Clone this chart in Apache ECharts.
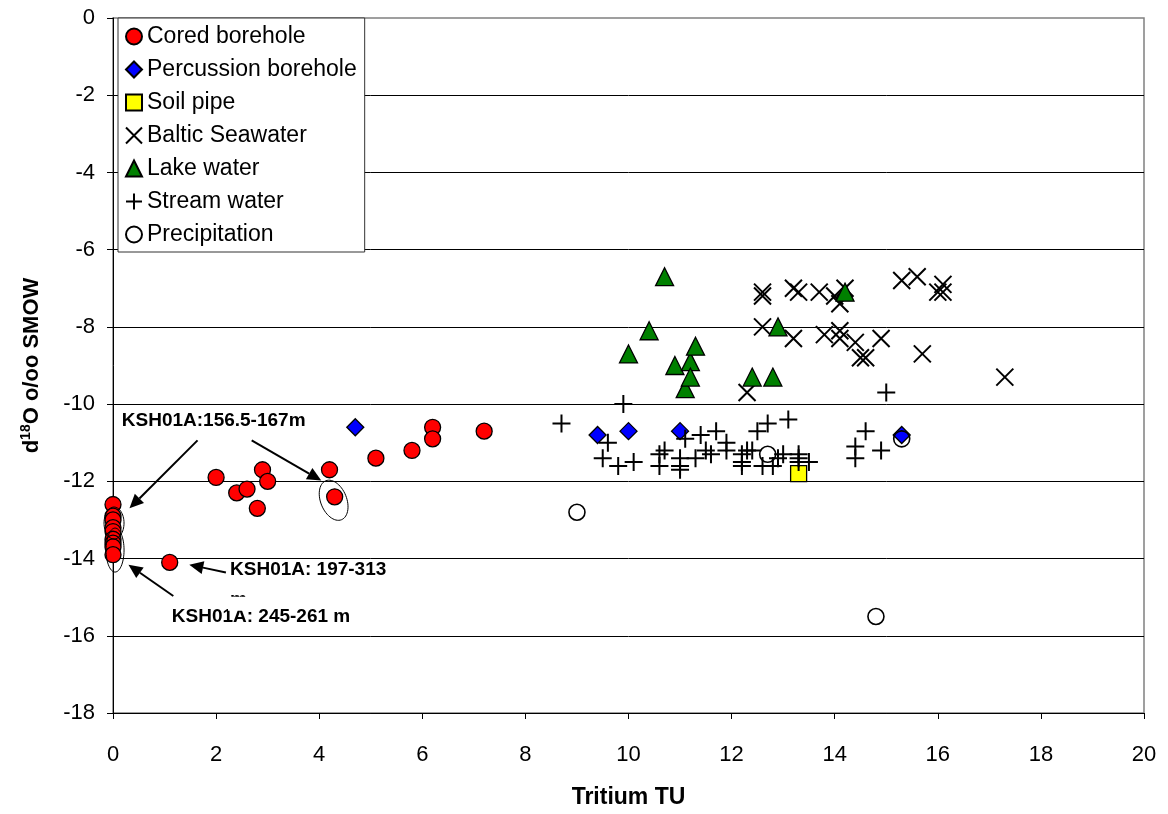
<!DOCTYPE html>
<html>
<head>
<meta charset="utf-8">
<script src="https://cdn.jsdelivr.net/npm/echarts@6/dist/echarts.min.js"></script>
<style>
  html, body { margin: 0; padding: 0; background: #fff; }
  #chart { width: 1168px; height: 814px; }
</style>
</head>
<body>
<div id="chart"></div>
<script>
const FONT = '"Liberation Sans", Arial, sans-serif';

// [tritium TU, d18O]
const coredBorehole = [
  [0, -12.6], [0, -12.9], [0, -13.0], [0, -13.2], [0, -13.3], [0, -13.5], [0, -13.6], [0, -13.7], [0, -13.9],
  [1.1, -14.1], [2.0, -11.9], [2.4, -12.3], [2.6, -12.2], [2.8, -12.7], [2.9, -11.7], [3.0, -12.0],
  [4.2, -11.7], [4.3, -12.4], [5.1, -11.4], [5.8, -11.2], [6.2, -10.6], [6.2, -10.9], [7.2, -10.7]
];
const percussionBorehole = [[4.7, -10.6], [9.4, -10.8], [10.0, -10.7], [11.0, -10.7], [15.3, -10.8]];
const soilPipe = [[13.3, -11.8]];
const balticSeawater = [
  [12.3, -9.7], [12.6, -7.1], [12.6, -7.2], [12.6, -8.0], [13.2, -7.0], [13.3, -7.1], [13.2, -8.3],
  [13.7, -7.1], [13.8, -8.2], [14.0, -7.2], [14.1, -7.4], [14.2, -7.0], [14.1, -8.1], [14.1, -8.3],
  [14.4, -8.4], [14.5, -8.8], [14.6, -8.8], [14.9, -8.3], [15.3, -6.8], [15.6, -6.7], [15.7, -8.7],
  [16.0, -7.1], [16.1, -6.9], [16.1, -7.1], [17.3, -9.3]
];
const lakeWater = [
  [10.0, -8.7], [10.4, -8.1], [10.7, -6.7], [10.9, -9.0], [11.1, -9.6], [11.2, -8.9], [11.2, -9.3],
  [11.3, -8.5], [12.4, -9.3], [12.8, -9.3], [12.9, -8.0], [14.2, -7.1]
];
const streamWater = [
  [8.7, -10.5], [9.9, -10.0], [9.6, -11.0], [9.5, -11.4], [9.8, -11.6], [10.1, -11.5], [10.6, -11.6],
  [10.6, -11.3], [10.7, -11.2], [11.0, -11.4], [11.0, -11.6], [11.0, -11.7], [11.1, -10.9], [11.3, -11.4],
  [11.4, -10.8], [11.5, -11.2], [11.6, -11.3], [11.7, -10.7], [11.9, -11.0], [11.9, -11.2], [12.2, -11.3],
  [12.2, -11.5], [12.2, -11.6], [12.3, -11.2], [12.4, -11.2], [12.5, -10.7], [12.7, -10.5], [13.1, -10.4],
  [12.6, -11.6], [12.8, -11.6], [12.9, -11.4], [13.0, -11.3], [13.3, -11.3], [13.3, -11.4], [13.3, -11.5],
  [13.5, -11.5], [14.4, -11.1], [14.4, -11.4], [14.6, -10.7], [14.9, -11.2], [15.0, -9.7]
];
const precipitation = [[9.0, -12.8], [12.7, -11.3], [14.8, -15.5], [15.3, -10.9]];

// annotations, in data units
const noteTexts = [
  { text: 'KSH01A:156.5-167m', at: [0.17, -10.43] },
  { text: 'KSH01A: 197-313', at: [2.27, -14.29] },
  { text: 'KSH01A: 245-261 m', at: [1.14, -15.5] }
];
const noteArrows = [
  [[1.64, -10.94], [0.32, -12.70]],
  [[2.69, -10.94], [4.04, -11.98]],
  [[2.19, -14.36], [1.48, -14.16]],
  [[1.17, -14.97], [0.30, -14.16]]
];
// centre, radii in px, tilt in degrees
const noteEllipses = [
  { at: [4.28, -12.49], rx: 13, ry: 21, tilt: -22 },
  { at: [0.02, -13.08], rx: 10, ry: 16, tilt: 0 },
  { at: [0.04, -13.78], rx: 9, ry: 22, tilt: 0 }
];

const crossPath = 'path://M0,0L10,10M10,0L0,10';
const plusPath = 'path://M5,0L5,10M0,5L10,5';

function scatter(name, data, symbol, size, color, bw) {
  return {
    name: name,
    type: 'scatter',
    data: data,
    symbol: symbol,
    symbolSize: size,
    itemStyle: { color: color, borderColor: '#000', borderWidth: bw, opacity: 1 },
    emphasis: { disabled: true }
  };
}

const chart = echarts.init(document.getElementById('chart'));
chart.setOption({
  animation: false,
  backgroundColor: '#fff',
  textStyle: { fontFamily: FONT },
  grid: {
    left: 113, right: 24, top: 18, bottom: 97,
    show: true, borderColor: '#808080', borderWidth: 1.5, backgroundColor: '#fff'
  },
  legend: {
    orient: 'vertical',
    left: 118, top: 18,
    padding: [7, 8, 6, 7],
    itemGap: 10,
    itemWidth: 16, itemHeight: 16,
    backgroundColor: '#fff',
    borderColor: '#333', borderWidth: 1,
    textStyle: { fontFamily: FONT, fontSize: 23, color: '#000', lineHeight: 23 },
    data: ['Cored borehole', 'Percussion borehole', 'Soil pipe', 'Baltic Seawater', 'Lake water', 'Stream water', 'Precipitation']
  },
  xAxis: {
    type: 'value', min: 0, max: 20, interval: 2,
    name: 'Tritium TU', nameLocation: 'middle', nameGap: 73,
    nameTextStyle: { fontFamily: FONT, fontSize: 23, fontWeight: 'bold', color: '#000' },
    axisLine: { show: true, onZero: false, lineStyle: { color: '#000', width: 1 } },
    axisTick: { show: true, length: 6, lineStyle: { color: '#000' } },
    axisLabel: { fontFamily: FONT, fontSize: 22, color: '#000', margin: 31 },
    splitLine: { show: false }
  },
  yAxis: {
    type: 'value', min: -18, max: 0, interval: 2,
    name: '{n|d}{s|18}{n|O o/oo SMOW}', nameLocation: 'middle', nameGap: 68,
    nameTextStyle: {
      color: '#000',
      rich: {
        n: { fontFamily: FONT, fontSize: 22, fontWeight: 'bold', color: '#000', lineHeight: 26 },
        s: { fontFamily: FONT, fontSize: 14, fontWeight: 'bold', color: '#000', lineHeight: 14, verticalAlign: 'top' }
      }
    },
    axisLine: { show: true, onZero: false, lineStyle: { color: '#000', width: 1 } },
    axisTick: { show: true, length: 6, lineStyle: { color: '#000' } },
    axisLabel: { fontFamily: FONT, fontSize: 22, color: '#000', margin: 18 },
    splitLine: { show: true, showMaxLine: false, lineStyle: { color: '#000', width: 1 } }
  },
  series: [
    scatter('Cored borehole', coredBorehole, 'circle', 16, '#ff0000', 1.3),
    scatter('Percussion borehole', percussionBorehole, 'diamond', 17, '#0000ff', 1.3),
    scatter('Soil pipe', soilPipe, 'rect', 16, '#ffff00', 1.3),
    scatter('Baltic Seawater', balticSeawater, crossPath, 17, 'transparent', 2),
    scatter('Lake water', lakeWater, 'triangle', 18, '#008000', 1.3),
    scatter('Stream water', streamWater, plusPath, 18, 'transparent', 2),
    scatter('Precipitation', precipitation, 'circle', 16, 'transparent', 1.6)
  ]
});

// annotation layer built from data positions
function px(p) { return chart.convertToPixel({ gridIndex: 0 }, p); }
const elements = [];
noteTexts.forEach(function (t) {
  const p = px(t.at);
  elements.push({
    type: 'text', x: p[0], y: p[1], z: 100,
    style: { text: t.text, fontFamily: FONT, fontSize: 19, fontWeight: 'bold', fill: '#000', align: 'left', verticalAlign: 'middle' }
  });
});
// wrapped "m" of the second label, cut off by its text box
const m = px([2.27, -14.29]);
elements.push({
  type: 'text', x: m[0], y: m[1] + 30, z: 100,
  style: { text: 'm', fontFamily: FONT, fontSize: 19, fontWeight: 'bold', fill: '#000', align: 'left', verticalAlign: 'middle' }
});
elements.push({
  type: 'rect', shape: { x: m[0] - 2, y: m[1] + 27, width: 26, height: 14 }, z: 101,
  style: { fill: '#fff' }
});
noteArrows.forEach(function (ar) {
  const a = px(ar[0]), b = px(ar[1]);
  const dx = b[0] - a[0], dy = b[1] - a[1], len = Math.hypot(dx, dy);
  const ux = dx / len, uy = dy / len, hl = 14, hw = 6.5;
  const bx = b[0] - ux * hl, by = b[1] - uy * hl;
  elements.push({
    type: 'line', z: 100, shape: { x1: a[0], y1: a[1], x2: bx, y2: by },
    style: { stroke: '#000', lineWidth: 2 }
  });
  elements.push({
    type: 'polygon', z: 100,
    shape: { points: [[b[0], b[1]], [bx - uy * hw, by + ux * hw], [bx + uy * hw, by - ux * hw]] },
    style: { fill: '#000' }
  });
});
noteEllipses.forEach(function (e) {
  const c = px(e.at), th = e.tilt * Math.PI / 180, pts = [];
  for (let i = 0; i < 60; i++) {
    const t = i / 60 * 2 * Math.PI;
    const x = e.rx * Math.cos(t), y = e.ry * Math.sin(t);
    pts.push([c[0] + x * Math.cos(th) - y * Math.sin(th), c[1] + x * Math.sin(th) + y * Math.cos(th)]);
  }
  elements.push({
    type: 'polygon', z: 100, shape: { points: pts },
    style: { fill: 'none', stroke: '#000', lineWidth: 1 }
  });
});
chart.setOption({ graphic: elements });
</script>
</body>
</html>
